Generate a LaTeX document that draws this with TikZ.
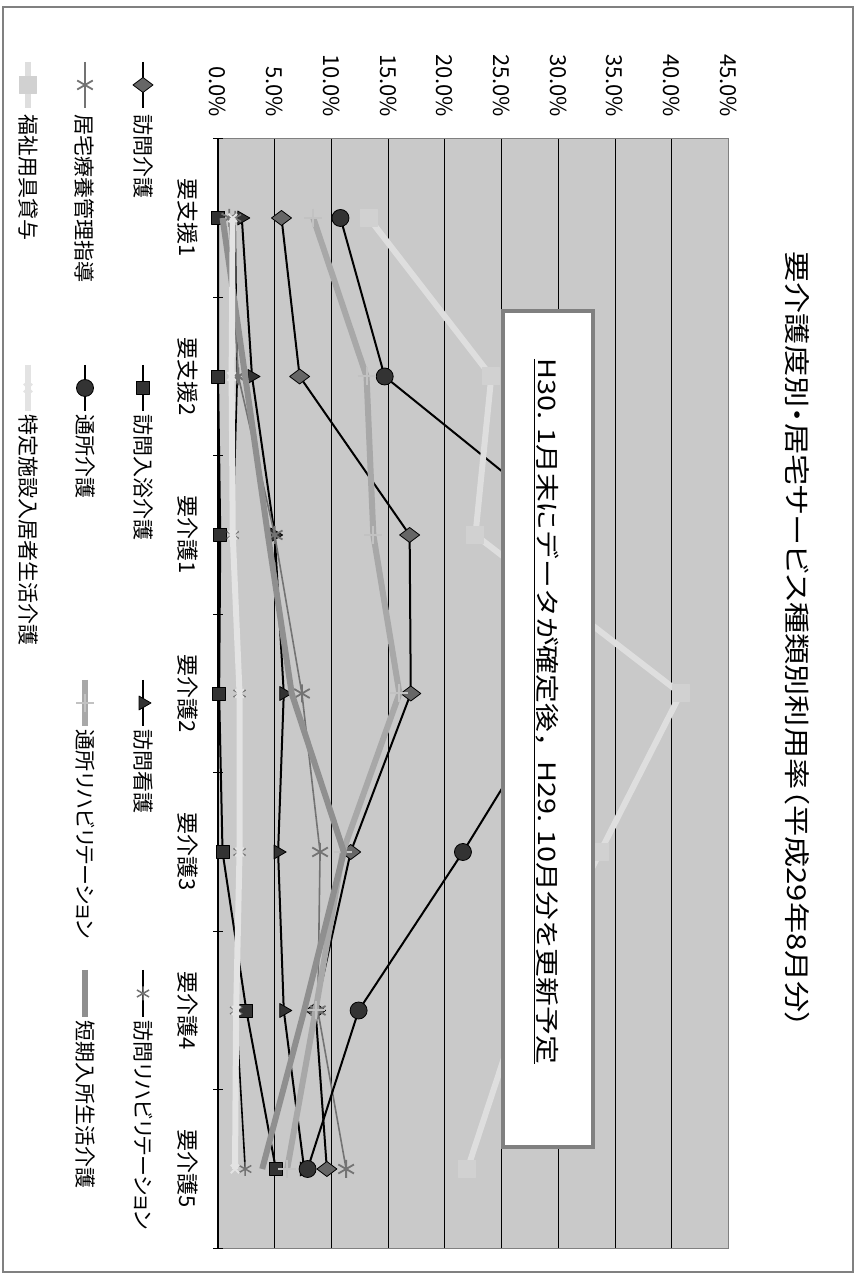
\documentclass[tikz,border=0pt]{standalone}
\usepackage{fontspec}
\setmainfont{Noto Sans CJK JP}
\newfontfamily\propfont[RawFeature=+palt]{Noto Sans CJK JP}
\usetikzlibrary{plotmarks}

\definecolor[named]{frameColor}{rgb}{0.50,0.50,0.50}
\definecolor[named]{plotColor}{rgb}{0.79,0.79,0.79}
\definecolor[named]{edgeColor}{rgb}{0.50,0.50,0.50}
\definecolor[named]{diaColor}{rgb}{0.40,0.40,0.40}
\definecolor[named]{kyotakuColor}{rgb}{0.45,0.45,0.45}
\definecolor[named]{tsurihaColor}{rgb}{0.66,0.66,0.66}
\definecolor[named]{tankiColor}{rgb}{0.56,0.56,0.56}
\definecolor[named]{fukushiColor}{rgb}{0.87,0.87,0.87}
\definecolor[named]{fukushiMark}{rgb}{0.82,0.82,0.82}
\definecolor[named]{tokuteiColor}{rgb}{0.89,0.89,0.89}
\definecolor[named]{boxColor}{rgb}{0.50,0.50,0.50}

\tikzset{
  lbl/.style={rotate=-90,inner sep=0pt,outer sep=0pt,font=\fontsize{22}{26}\selectfont},
  leg/.style={rotate=-90,inner sep=0pt,outer sep=0pt,anchor=west,font=\propfont\fontsize{21}{25}\selectfont},
  blk/.style={draw=black,line width=2pt,line join=round},
  houmon/.style={blk,mark=diamond*,mark size=10pt,mark options={fill=diaColor,draw=black,line width=0.8pt,rotate=-90}},
  nyuyoku/.style={blk,mark=square*,mark size=6.5pt,mark options={fill=black!80,draw=black,line width=0.8pt}},
  kango/.style={blk,mark=triangle*,mark size=8pt,mark options={fill=black!80,draw=black,line width=0.8pt,rotate=-90}},
  rihabiri/.style={blk,line width=1.6pt,mark=asterisk,mark size=7pt,mark options={draw=black!55,line width=1.5pt}},
  kyotaku/.style={draw=kyotakuColor,line width=1.6pt,line join=round,mark=asterisk,mark size=9pt,mark options={draw=kyotakuColor,line width=1.8pt}},
  tsusho/.style={blk,mark=*,mark size=8.5pt,mark options={fill=black!80,draw=black,line width=0.8pt}},
  tsuriha/.style={draw=tsurihaColor,line width=6pt,line join=round,mark=+,mark size=9pt,mark options={draw=tsurihaColor!70!white,line width=2pt}},
  tanki/.style={draw=tankiColor,line width=6pt,line join=round},
  fukushi/.style={draw=fukushiColor,line width=6pt,line join=round,mark=square*,mark size=8.5pt,mark options={fill=fukushiMark,draw=fukushiMark,line width=1pt}},
  tokutei/.style={draw=tokuteiColor,line width=6pt,line join=round,mark=x,mark size=6pt,mark options={draw=tokuteiColor,line width=2pt}},
}

\begin{document}
\begin{tikzpicture}[x=1pt,y=1pt]
\path[use as bounding box,fill=white] (0,0) rectangle (857,1278);
\path[draw=frameColor,line width=1.5pt] (3,6) rectangle (853,1271);

% plot area: value (%) across, care level down
\begin{scope}[shift={(218,1060)},x=11.34pt,y=-158.5pt]
\path[fill=plotColor,draw=edgeColor,line width=1.2pt] (0,-0.5) rectangle (45,6.5);

\path[draw=black,line width=0.8pt] ( 5,-0.5) -- ( 5,6.5);
\path[draw=black,line width=0.8pt] (10,-0.5) -- (10,6.5);
\path[draw=black,line width=0.8pt] (15,-0.5) -- (15,6.5);
\path[draw=black,line width=0.8pt] (20,-0.5) -- (20,6.5);
\path[draw=black,line width=0.8pt] (25,-0.5) -- (25,6.5);
\path[draw=black,line width=0.8pt] (30,-0.5) -- (30,6.5);
\path[draw=black,line width=0.8pt] (35,-0.5) -- (35,6.5);
\path[draw=black,line width=0.8pt] (40,-0.5) -- (40,6.5);

\path[draw=black,line width=1.5pt] (0,-0.5) -- (0,6.5);
\path[draw=black,line width=1pt] (-0.4,-0.5) -- (0.4,-0.5) (-0.4,0.5) -- (0.4,0.5)
  (-0.4,1.5) -- (0.4,1.5) (-0.4,2.5) -- (0.4,2.5) (-0.4,3.5) -- (0.4,3.5)
  (-0.4,4.5) -- (0.4,4.5) (-0.4,5.5) -- (0.4,5.5) (-0.4,6.5) -- (0.4,6.5);

\node[lbl,anchor=east] (ax0) at ( 0,-0.637) {0.0\%};
\node[lbl,anchor=east] (ax1) at ( 5,-0.637) {5.0\%};
\node[lbl,anchor=east] (ax2) at (10,-0.637) {10.0\%};
\node[lbl,anchor=east] (ax3) at (15,-0.637) {15.0\%};
\node[lbl,anchor=east] (ax4) at (20,-0.637) {20.0\%};
\node[lbl,anchor=east] (ax5) at (25,-0.637) {25.0\%};
\node[lbl,anchor=east] (ax6) at (30,-0.637) {30.0\%};
\node[lbl,anchor=east] (ax7) at (35,-0.637) {35.0\%};
\node[lbl,anchor=east] (ax8) at (40,-0.637) {40.0\%};
\node[lbl,anchor=east] (ax9) at (45,-0.637) {45.0\%};

\node[lbl] (cat0) at (-2.65,0) {要支援1};
\node[lbl] (cat1) at (-2.65,1) {要支援2};
\node[lbl] (cat2) at (-2.65,2) {要介護1};
\node[lbl] (cat3) at (-2.65,3) {要介護2};
\node[lbl] (cat4) at (-2.65,4) {要介護3};
\node[lbl] (cat5) at (-2.65,5) {要介護4};
\node[lbl] (cat6) at (-2.65,6) {要介護5};

\draw[houmon]   plot coordinates {(5.6,0) (7.2,1) (16.9,2) (17.0,3) (11.7,4) (8.6,5) (9.6,6)};
\draw[nyuyoku]  plot coordinates {(0,0) (0,1) (0.2,2) (0.1,3) (0.4,4) (2.5,5) (5.1,6)};
\draw[kango]    plot coordinates {(2.1,0) (3.0,1) (5.0,2) (5.8,3) (5.3,4) (5.8,5) (7.6,6)};
\draw[rihabiri] plot coordinates {(1.5,0) (1.7,1) (1.3,2) (1.9,3) (1.9,4) (1.6,5) (2.4,6)};
\draw[kyotaku]  plot coordinates {(1.0,0) (1.8,1) (5.0,2) (7.4,3) (9.0,4) (8.8,5) (11.3,6)};
\draw[tsusho]   plot coordinates {(10.8,0) (14.7,1) (32.0,2) (30.2,3) (21.6,4) (12.4,5) (7.9,6)};
\draw[tsuriha]  plot coordinates {(8.4,0) (13.1,1) (13.7,2) (16.0,3) (11.0,4) (8.6,5) (6.1,6)};
\draw[tanki]    plot coordinates {(0.4,0) (2.4,1) (4.4,2) (6.5,3) (11.1,4) (7.6,5) (3.9,6)};
\draw[fukushi]  plot coordinates {(13.3,0) (24.1,1) (22.7,2) (40.8,3) (33.7,4) (26.6,5) (22.0,6)};
\draw[tokutei]  plot coordinates {(1.3,0) (1.2,1) (1.3,2) (1.9,3) (1.9,4) (1.6,5) (1.5,6)};
\end{scope}

% note box
\path[fill=white,draw=boxColor,line width=4pt] (503,131) rectangle (593,967);
\node[lbl,font=\fontsize{24}{28}\selectfont,xscale=1.2] (note) at (546,566.5) {\underline{H30. 1月末にデータが確定後，H29. 10月分を更新予定}};

% title
\node[lbl,font=\propfont\fontsize{26}{30}\selectfont,xscale=1.2] (title) at (797,638) {要介護度別・居宅サービス種類別利用率（平成29年8月分）};

% legend
\draw[houmon,mark indices={2}]   plot coordinates {(143,1216) (143,1193) (143,1170)};
\node[leg] (legHoumon) at (143,1163) {訪問介護};
\draw[nyuyoku,mark indices={2}]  plot coordinates {(143,913) (143,890) (143,867)};
\node[leg] (legNyuyoku) at (143,863) {訪問入浴介護};
\draw[kango,mark indices={2}]    plot coordinates {(143,598) (143,575) (143,552)};
\node[leg] (legKango) at (143,548) {訪問看護};
\draw[rihabiri,mark indices={2}] plot coordinates {(143,308) (143,284.5) (143,261)};
\node[leg] (legRihabiri) at (143,257) {訪問リハビリテーション};

\draw[kyotaku,mark indices={2}]  plot coordinates {(85,1216) (85,1193) (85,1170)};
\node[leg] (legKyotaku) at (85,1163) {居宅療養管理指導};
\draw[tsusho,mark indices={2}]   plot coordinates {(85,913) (85,890) (85,867)};
\node[leg] (legTsusho) at (85,863) {通所介護};
\draw[tsuriha,mark indices={2}]  plot coordinates {(85,598) (85,575) (85,552)};
\node[leg] (legTsuriha) at (85,548) {通所リハビリテーション};
\draw[tanki]                     plot coordinates {(85,308) (85,261)};
\node[leg] (legTanki) at (85,257) {短期入所生活介護};

\draw[fukushi,mark indices={2}]  plot coordinates {(28,1216) (28,1193) (28,1170)};
\node[leg] (legFukushi) at (28,1163) {福祉用具貸与};
\draw[tokutei,mark indices={2}]  plot coordinates {(28,913) (28,890) (28,867)};
\node[leg] (legTokutei) at (28,863) {特定施設入居者生活介護};
\end{tikzpicture}
\end{document}
